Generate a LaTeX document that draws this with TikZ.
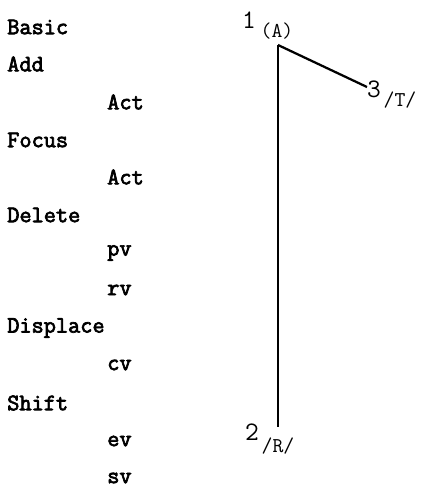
\documentclass[tikz,border=0pt]{standalone}
\usepackage{fontspec}
\setmonofont{Latin Modern Mono}[AutoFakeBold=3]

\begin{document}
\begin{tikzpicture}[x=.025cm,y=-.025cm,
  every node/.style={font=\ttfamily\bfseries\fontsize{16.8}{19}\selectfont,inner sep=0pt},
  op/.style={anchor=west},
  arg/.style={anchor=west},
  num/.style={anchor=base,font=\ttfamily\fontsize{19}{21}\selectfont},
  rel/.style={anchor=base,font=\ttfamily\fontsize{15}{17}\selectfont},
  edge/.style={line width=1.6pt}]
\useasboundingbox (0,0) rectangle (422,495);
% operations
\node[op]  (basic)    at (7,27)   {Basic};
\node[op]  (add)      at (7,64)   {Add};
\node[arg] (addact)   at (107,102) {Act};
\node[op]  (focus)    at (7,140)  {Focus};
\node[arg] (focact)   at (107,177) {Act};
\node[op]  (delete)   at (7,215)  {Delete};
\node[arg] (pv)       at (107,253) {pv};
\node[arg] (rv)       at (107,290) {rv};
\node[op]  (displace) at (7,328)  {Displace};
\node[arg] (cv)       at (107,365) {cv};
\node[op]  (shift)    at (7,403)  {Shift};
\node[arg] (ev)       at (107,441) {ev};
\node[arg] (sv)       at (107,478) {sv};
% tree
\coordinate (v1) at (278,45);
\coordinate (v2) at (278,427);
\coordinate (v3) at (367,87);
\draw[edge] (v1) -- (v3);
\draw[edge] (v1) -- (v2);
\node[num] (l1) at (249,28)  {1};
\node[rel] (r1) at (277,37)  {(A)};
\node[num] (l3) at (374,97)  {3};
\node[rel] (r3) at (400,106) {/T/};
\node[num] (l2) at (252,440) {2};
\node[rel] (r2) at (278,452) {/R/};
\end{tikzpicture}
\end{document}
